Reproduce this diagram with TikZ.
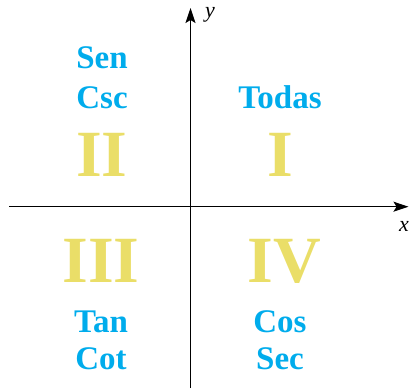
\documentclass[tikz,border=0pt]{standalone}
\usepackage{fontspec}
\setmainfont{Liberation Serif}
\usetikzlibrary{arrows.meta}

\definecolor{quadyellow}{RGB}{234,222,104}
\definecolor{trigcyan}{RGB}{0,172,236}

\newcommand*{\xmin}{9}
\newcommand*{\xmax}{408.5}
\newcommand*{\ymin}{388}
\newcommand*{\ymax}{8}
\newcommand*{\xorg}{190.5}
\newcommand*{\yorg}{206.7}

\begin{document}
\begin{tikzpicture}
[
	x=1pt,y=-1pt,
	quadnum/.style={quadyellow,font=\bfseries\fontsize{66}{66}\selectfont,anchor=base,inner sep=0pt},
	trigname/.style={trigcyan,font=\bfseries\fontsize{33}{33}\selectfont,anchor=base,inner sep=0pt},
	axislabel/.style={font=\itshape\fontsize{22}{22}\selectfont,inner sep=0pt},
	axisline/.style={line width=1.2pt,-{Stealth[length=15pt,width=10pt,inset=3pt]}}
]

	\useasboundingbox (0,0) rectangle (409,388);

	% axes
	\coordinate (xstart) at (\xmin,\yorg);
	\coordinate (xend) at (\xmax,\yorg);
	\coordinate (ystart) at (\xorg,\ymin);
	\coordinate (yend) at (\xorg,\ymax);
	\draw[axisline] (xstart) -- (xend);
	\draw[axisline] (ystart) -- (yend);
	\node[axislabel] at (404,226) (xlab) {x};
	\node[axislabel] at (210,15) (ylab) {y};

	% quadrant numbers
	\node[quadnum] at (102,176) (qtwo) {II};
	\node[quadnum] at (280,176) (qone) {I};
	\node[quadnum] at (101,282) (qthree) {III};
	\node[quadnum] at (284,282) (qfour) {IV};

	% positive functions
	\node[trigname] at (102,68) (sen) {Sen};
	\node[trigname] at (102,108) (csc) {Csc};
	\node[trigname] at (280,108) (todas) {Todas};
	%
	\node[trigname] at (101,332) (tan) {Tan};
	\node[trigname] at (101,369) (cot) {Cot};
	\node[trigname] at (280,332) (cos) {Cos};
	\node[trigname] at (280,369) (sec) {Sec};

\end{tikzpicture}
\end{document}
